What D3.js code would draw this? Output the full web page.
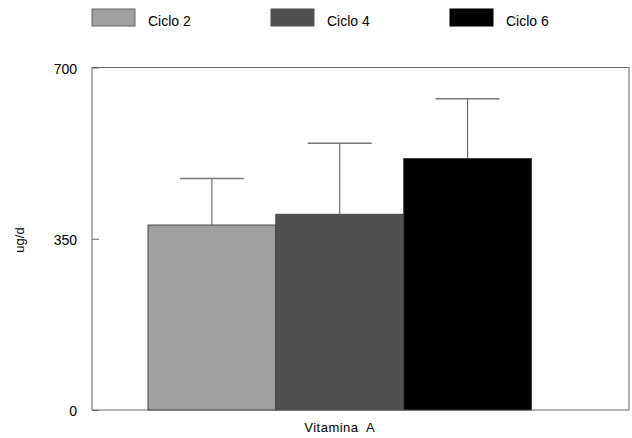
<!DOCTYPE html>
<html><head><meta charset="utf-8">
<script src="https://cdn.jsdelivr.net/npm/d3@7"></script>
<style>body{margin:0;background:#fff}svg{display:block}text{font-family:"Liberation Sans",Arial,sans-serif;fill:#000}</style>
</head><body><svg id="c" width="632" height="438"></svg>
<script>
const categories = ["Vitamina A"];
const series = ["Ciclo 2", "Ciclo 4", "Ciclo 6"];
const means = [378, 400, 514];
const sds = [95, 145, 122];
const yTicks = [0, 350, 700];
const colors = ["#a0a0a0", "#505050", "#000000"];

const svg = d3.select("#c");
const frame = {l: 92, r: 629, t: 67.5, b: 410};

const y = d3.scaleLinear().domain([0, 700]).range([frame.b, frame.t]);
const x0 = d3.scaleBand().domain(categories).range([148, 531.5]);
const x1 = d3.scaleBand().domain(series).range([0, x0.bandwidth()]);

// frame
svg.append("rect").attr("x", frame.l).attr("y", frame.t)
  .attr("width", frame.r - frame.l).attr("height", frame.b - frame.t)
  .attr("fill", "none").attr("stroke", "#6a6a6a").attr("stroke-width", 1);

// y axis
const yAxis = d3.axisLeft(y).tickValues(yTicks).tickSize(-7).tickPadding(15);
const ga = svg.append("g").attr("transform", `translate(${frame.l},0)`).call(yAxis);
ga.select(".domain").remove();
ga.selectAll(".tick line").attr("stroke", "#6a6a6a");
ga.selectAll(".tick text").attr("font-size", 14).attr("dy", "0.4em")
  .style("font-family", '"Liberation Sans",Arial,sans-serif');

// y label
svg.append("text").attr("transform", "translate(24,240) rotate(-90)")
  .attr("text-anchor", "middle").attr("font-size", 13).text("ug/d");

// bars
const g = svg.append("g");
categories.forEach(cat => {
  series.forEach((s, i) => {
    const bx = x0(cat) + x1(s);
    g.append("rect").attr("x", bx).attr("y", y(means[i]))
      .attr("width", x1.bandwidth()).attr("height", y(0) - y(means[i]))
      .attr("fill", colors[i]).attr("stroke", "#444").attr("stroke-width", 1);
    const cx = bx + x1.bandwidth() / 2;
    const top = y(means[i] + sds[i]);
    g.append("line").attr("x1", cx).attr("x2", cx).attr("y1", y(means[i])).attr("y2", top)
      .attr("stroke", "#555").attr("stroke-width", 1);
    g.append("line").attr("x1", cx - x1.bandwidth() / 4).attr("x2", cx + x1.bandwidth() / 4)
      .attr("y1", top).attr("y2", top).attr("stroke", "#777").attr("stroke-width", 1.5);
  });
  svg.append("text").attr("x", x0(cat) + x0.bandwidth() / 2).attr("y", 432)
    .attr("text-anchor", "middle").attr("font-size", 13).attr("letter-spacing", "0.5")
    .style("white-space", "pre").text(cat.replace(" ", "  "));
});

// legend
const legX = [92, 271, 450];
series.forEach((s, i) => {
  svg.append("rect").attr("x", legX[i]).attr("y", 9).attr("width", 43).attr("height", 17)
    .attr("fill", colors[i]).attr("stroke", i === 0 ? "#666" : colors[i]).attr("stroke-width", 1);
  svg.append("text").attr("x", legX[i] + 56).attr("y", 26).attr("font-size", 14).text(s);
});
</script></body></html>
